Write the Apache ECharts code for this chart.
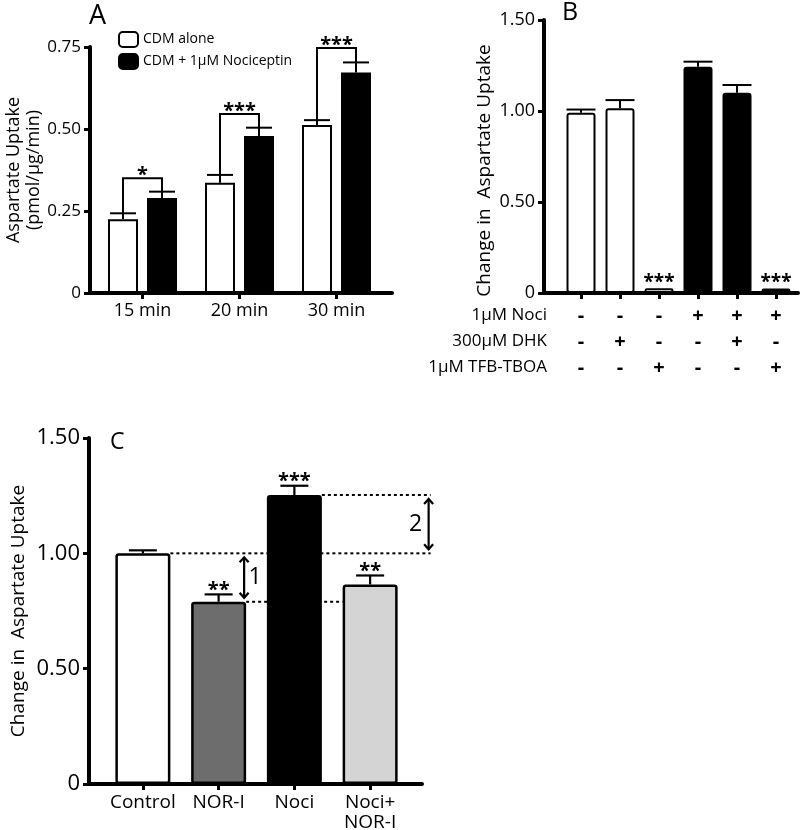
<!DOCTYPE html>
<html><head><meta charset="utf-8">
<script src="https://cdn.jsdelivr.net/npm/echarts@6/dist/echarts.min.js"></script>
<style>html,body{margin:0;padding:0;background:#fff}#c{width:800px;height:830px}</style>
</head><body><div id="c"></div>
<script>
// ---------- Panel A ----------
const catsA = ['15 min', '20 min', '30 min'];
const aloneA = [0.225, 0.336, 0.512];
const aloneErrA = [0.018, 0.024, 0.015];
const nociA = [0.290, 0.479, 0.672];
const nociErrA = [0.019, 0.025, 0.031];
const bracketA = [0.350, 0.546, 0.747];
const sigA = ['*', '***', '***'];
const yTicksA = [0, 0.25, 0.50, 0.75];
const seriesNamesA = ['CDM alone', 'CDM + 1µM Nociceptin'];

// ---------- Panel B ----------
const rowNamesB = ['1µM Noci', '300µM DHK', '1µM TFB-TBOA'];
const nociRowB = ['-', '-', '-', '+', '+', '+'];
const dhkRowB  = ['-', '+', '-', '-', '+', '-'];
const tboaRowB = ['-', '-', '+', '-', '-', '+'];
const valuesB = [0.990, 1.015, 0.026, 1.243, 1.100, 0.025];
const errB    = [0.018, 0.045, 0, 0.028, 0.043, 0];
const sigB    = ['', '', '***', '', '', '***'];
const yTicksB = [0, 0.50, 1.00, 1.50];

// ---------- Panel C ----------
const catsC = ['Control', 'NOR-I', 'Noci', 'Noci+\nNOR-I'];
const valuesC = [1.000, 0.790, 1.253, 0.865];
const errC    = [0.013, 0.032, 0.040, 0.039];
const sigC    = ['', '**', '***', '**'];
const yTicksC = [0, 0.50, 1.00, 1.50];
// dashed reference level of bar i, drawn from bar i to bar j (null = past the last bar)
const guidesC = [[0, null], [1, 3], [2, null]];
// arrow placed at bar "at", spanning the levels of bars "from" and "to"
const arrowsC = [[1, 0, 1, '1'], [3, 0, 2, '2']];

// ---------- styles ----------
const FONT = 'Open Sans';
const colorsC = ['#ffffff', '#6d6d6d', '#000000', '#d4d4d4'];
const AX = 4;
const fmt = v => v === 0 ? '0' : v.toFixed(2);
const catsB = nociRowB.map((_, i) => [nociRowB[i], dhkRowB[i], tboaRowB[i]].join('\n'));

function axisGridX(grid) {
  return { gridIndex: grid, type: 'value', min: 0, max: 1,
    axisLine: { show: true, lineStyle: { color: '#000', width: AX } },
    axisTick: { show: false }, axisLabel: { show: false }, splitLine: { show: false } };
}
function axisGridY(grid, ticks, fontSize, name, nameGap, nameSize, namePad) {
  return { gridIndex: grid, type: 'value', min: ticks[0], max: ticks[ticks.length - 1],
    interval: ticks[1] - ticks[0],
    name: name, nameLocation: 'middle', nameGap: nameGap, nameRotate: 90,
    nameTextStyle: { fontSize: nameSize, color: '#000', fontFamily: FONT, lineHeight: nameSize + 2, padding: namePad || 0 },
    axisLine: { show: true, lineStyle: { color: '#000', width: AX } },
    axisTick: { show: true, length: 6, lineStyle: { color: '#000', width: 3 } },
    axisLabel: { formatter: fmt, fontSize: fontSize, color: '#000', fontFamily: FONT, margin: 9 },
    splitLine: { show: false } };
}
function barsX(grid, cats, label) {
  return { gridIndex: grid, type: 'category', data: cats,
    axisLine: { show: false },
    axisTick: { show: true, alignWithLabel: true, length: 6, lineStyle: { color: '#000', width: 3 } },
    axisLabel: Object.assign({ interval: 0, color: '#000', fontFamily: FONT, margin: 8 }, label),
    splitLine: { show: false } };
}
function barsY(grid, ticks) {
  return { gridIndex: grid, type: 'value', show: false, min: ticks[0], max: ticks[ticks.length - 1] };
}

function errorRender(offset, capW, lw, sig, sigSize, sigLift) {
  return function (params, api) {
    const i = api.value(0), v = api.value(1), e = api.value(2);
    const base = api.coord([i, v]);
    const top = api.coord([i, v + e]);
    const x = base[0] + offset;
    const ch = [];
    if (e > 0) {
      ch.push({ type: 'line', shape: { x1: x, y1: base[1], x2: x, y2: top[1] }, style: { stroke: '#000', lineWidth: lw } });
      ch.push({ type: 'line', shape: { x1: x - capW / 2, y1: top[1], x2: x + capW / 2, y2: top[1] }, style: { stroke: '#000', lineWidth: lw } });
    }
    const s = sig && sig[params.dataIndex];
    if (s) ch.push({ type: 'text', x: x, y: top[1] - sigLift,
      style: { text: s, fontSize: sigSize, fontWeight: 'bold', fontFamily: FONT, fill: '#000', align: 'center', verticalAlign: 'middle' } });
    return { type: 'group', children: ch };
  };
}

const BW_A = 30, GAP_A = 9;
const offA = (BW_A + GAP_A) / 2;
const BW_B = 29, BW_C = 55;

function bracketRender(params, api) {
  const i = api.value(0);
  const c = api.coord([i, 0]);
  const yl = api.coord([i, api.value(1)])[1];
  const yr = api.coord([i, api.value(2)])[1];
  const yt = api.coord([i, api.value(3)])[1];
  const xl = c[0] - offA, xr = c[0] + offA;
  return { type: 'group', children: [
    { type: 'polyline', shape: { points: [[xl, yl], [xl, yt], [xr, yt], [xr, yr]] }, style: { stroke: '#000', lineWidth: 2, fill: null } },
    { type: 'text', x: (xl + xr) / 2, y: yt - 3,
      style: { text: sigA[params.dataIndex], fontSize: 20, fontWeight: 'bold', fontFamily: FONT, fill: '#000', align: 'center', verticalAlign: 'middle' } }
  ] };
}

function guideRender(params, api) {
  const i = api.value(0), v = api.value(1), j = api.value(2);
  const p = api.coord([i, v]);
  const x1 = p[0] + BW_C / 2;
  const last = api.coord([catsC.length - 1, v])[0];
  const x2 = j < 0 ? last + BW_C / 2 + 33 : api.coord([j, v])[0] - BW_C / 2;
  return { type: 'line', shape: { x1: x1, y1: p[1], x2: x2, y2: p[1] },
    style: { stroke: '#000', lineWidth: 2, lineDash: [3, 3] } };
}

function arrowRender(params, api) {
  const at = api.value(0), a = api.value(1), b = api.value(2);
  const last = at === catsC.length - 1;
  const cx = api.coord([at, 0])[0];
  const x = last ? cx + BW_C / 2 + 31 : cx + BW_C / 2 - 2;
  const y1 = api.coord([at, Math.max(a, b)])[1] + 4;
  const y2 = api.coord([at, Math.min(a, b)])[1] - 4;
  const h = 5, w = 4.5;
  const st = { stroke: '#000', lineWidth: 2.2, fill: null };
  const label = arrowsC[params.dataIndex][3];
  return { type: 'group', children: [
    { type: 'line', shape: { x1: x, y1: y1, x2: x, y2: y2 }, style: st },
    { type: 'polyline', shape: { points: [[x - w, y1 + h], [x, y1], [x + w, y1 + h]] }, style: st },
    { type: 'polyline', shape: { points: [[x - w, y2 - h], [x, y2], [x + w, y2 - h]] }, style: st },
    { type: 'text', x: last ? x - 13 : x + 11, y: (y1 + y2) / 2,
      style: { text: label, fontSize: 23, fontFamily: FONT, fill: '#000', align: 'center', verticalAlign: 'middle' } }
  ] };
}

const G = { outerBoundsMode: 'none', containLabel: false };
const chart = echarts.init(document.getElementById('c'), null, { renderer: 'canvas' });
chart.setOption({
  animation: false,
  backgroundColor: '#fff',
  textStyle: { fontFamily: FONT },
  title: [
    { text: 'A', left: 89, top: 3, padding: 0, textStyle: { fontSize: 27, fontWeight: 'normal', color: '#000', fontFamily: FONT } },
    { text: 'B', left: 562, top: 0, padding: 0, textStyle: { fontSize: 25, fontWeight: 'normal', color: '#000', fontFamily: FONT } },
    { text: 'C', left: 110, top: 431, padding: 0, textStyle: { fontSize: 23, fontWeight: 'normal', color: '#000', fontFamily: FONT } }
  ],
  legend: {
    data: seriesNamesA, orient: 'vertical', left: 118, top: 31, padding: 0,
    itemWidth: 19, itemHeight: 15, itemGap: 5, icon: 'roundRect', selectedMode: false,
    textStyle: { fontSize: 14, color: '#000', fontFamily: FONT }
  },
  graphic: rowNamesB.map((t, k) => ({
    type: 'text', right: 800 - 547, top: 307 + k * 26,
    style: { text: t, fontSize: 17, fontFamily: FONT, fill: '#000', align: 'right' }
  })),
  grid: [
    Object.assign({ left: 90, top: 47, width: 302, height: 246 }, G),
    Object.assign({ left: 94, top: 47, width: 291, height: 246 }, G),
    Object.assign({ left: 544, top: 20, width: 254, height: 273 }, G),
    Object.assign({ left: 561.5, top: 20, width: 234, height: 273 }, G),
    Object.assign({ left: 89, top: 438, width: 333, height: 346 }, G),
    Object.assign({ left: 105, top: 438, width: 303, height: 346 }, G)
  ],
  xAxis: [
    axisGridX(0),
    barsX(1, catsA, { fontSize: 18, lineHeight: 19 }),
    axisGridX(2),
    barsX(3, catsB, { fontSize: 20, fontWeight: 'bold', margin: 10, lineHeight: 26 }),
    axisGridX(4),
    barsX(5, catsC, { fontSize: 19, lineHeight: 20, margin: 9 })
  ],
  yAxis: [
    axisGridY(0, yTicksA, 17, 'Aspartate Uptake\n(pmol/µg/min)', 44, 18),
    barsY(1, yTicksA),
    axisGridY(2, yTicksB, 18, 'Change in  Aspartate Uptake', 42, 19, [0, 28, 0, 0]),
    barsY(3, yTicksB),
    axisGridY(4, yTicksC, 22, 'Change in  Aspartate Uptake', 60, 19),
    barsY(5, yTicksC)
  ],
  series: [
    // Panel A
    { name: seriesNamesA[0], type: 'bar', xAxisIndex: 1, yAxisIndex: 1, data: aloneA, barWidth: BW_A, barGap: (GAP_A / BW_A * 100) + '%',
      itemStyle: { color: '#fff', borderColor: '#000', borderWidth: 2 }, z: 3 },
    { name: seriesNamesA[1], type: 'bar', xAxisIndex: 1, yAxisIndex: 1, data: nociA, barWidth: BW_A,
      itemStyle: { color: '#000', borderColor: '#000', borderWidth: 2 }, z: 3 },
    { type: 'custom', xAxisIndex: 1, yAxisIndex: 1, z: 4, encode: { x: 0, y: 1 },
      data: aloneA.map((v, i) => [i, v, aloneErrA[i]]), renderItem: errorRender(-offA, 26, 2) },
    { type: 'custom', xAxisIndex: 1, yAxisIndex: 1, z: 4, encode: { x: 0, y: 1 },
      data: nociA.map((v, i) => [i, v, nociErrA[i]]), renderItem: errorRender(offA, 26, 2) },
    { type: 'custom', xAxisIndex: 1, yAxisIndex: 1, z: 4, encode: { x: 0, y: 3 },
      data: catsA.map((_, i) => [i, aloneA[i] + aloneErrA[i], nociA[i] + nociErrA[i], bracketA[i]]), renderItem: bracketRender },
    // Panel B
    { type: 'bar', xAxisIndex: 3, yAxisIndex: 3, barWidth: BW_B, z: 3,
      data: valuesB.map((v, i) => ({ value: v, itemStyle: nociRowB[i] === '+' ? { color: '#000', borderColor: '#000', borderWidth: 2, borderRadius: 2 } : { color: '#fff', borderColor: '#000', borderWidth: 2, borderRadius: 2 } })) },
    { type: 'custom', xAxisIndex: 3, yAxisIndex: 3, z: 4, encode: { x: 0, y: 1 },
      data: valuesB.map((v, i) => [i, v, errB[i]]), renderItem: errorRender(0, 29, 2, sigB, 19, 6) },
    // Panel C
    { type: 'custom', xAxisIndex: 5, yAxisIndex: 5, z: 1, encode: { x: 0, y: 1 },
      data: guidesC.map(([i, j]) => [i, valuesC[i], j == null ? -1 : j]), renderItem: guideRender },
    { type: 'bar', xAxisIndex: 5, yAxisIndex: 5, barWidth: BW_C, z: 3,
      data: valuesC.map((v, i) => ({ value: v, itemStyle: { color: colorsC[i], borderColor: '#000', borderWidth: 2.5, borderRadius: 2 } })) },
    { type: 'custom', xAxisIndex: 5, yAxisIndex: 5, z: 4, encode: { x: 0, y: 1 },
      data: valuesC.map((v, i) => [i, v, errC[i]]), renderItem: errorRender(0, 28, 2.2, sigC, 20, 4) },
    { type: 'custom', xAxisIndex: 5, yAxisIndex: 5, z: 4, encode: { x: 0, y: 1 },
      data: arrowsC.map(([at, a, b]) => [at, valuesC[a], valuesC[b]]), renderItem: arrowRender }
  ]
});
</script></body></html>
